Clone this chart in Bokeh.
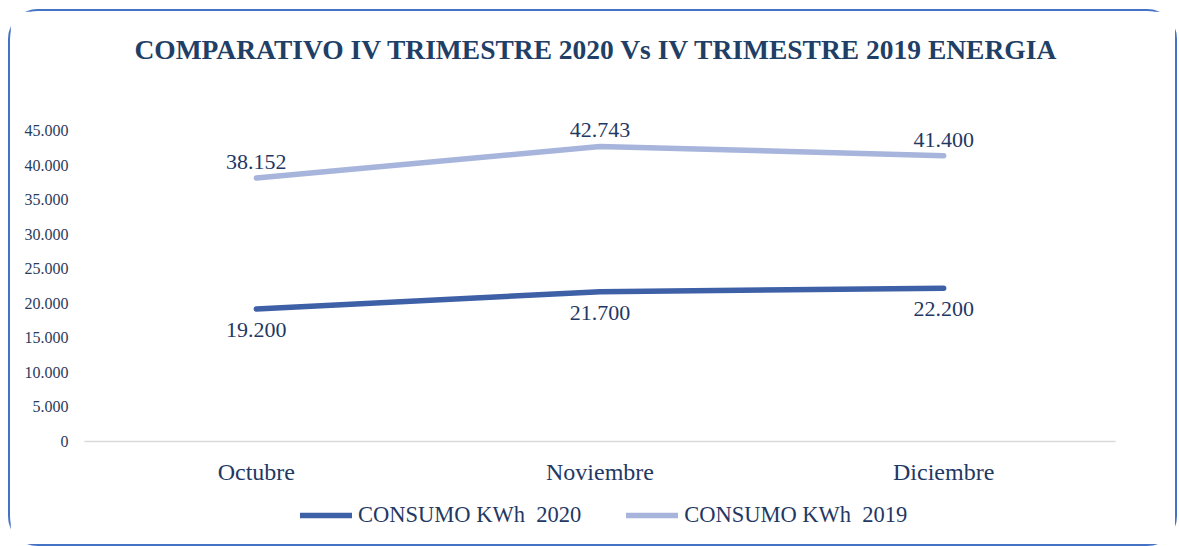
from bokeh.plotting import figure
from bokeh.layouts import column
from bokeh.models import (FactorRange, Range1d, FixedTicker, Legend, LegendItem,
                          ColumnDataSource)
from bokeh.core.properties import value
from bokeh.embed import file_html
from bokeh.resources import INLINE

# ---- data ----
months = ["Octubre", "Noviembre", "Diciembre"]
consumo_2020 = [19200, 21700, 22200]
consumo_2019 = [38152, 42743, 41400]
series_names = ["CONSUMO KWh  2020", "CONSUMO KWh  2019"]
y_ticks = [0, 5000, 10000, 15000, 20000, 25000, 30000, 35000, 40000, 45000]
y_tick_labels = ["0", "5.000", "10.000", "15.000", "20.000", "25.000",
                 "30.000", "35.000", "40.000", "45.000"]
title_text = "COMPARATIVO IV TRIMESTRE 2020 Vs IV TRIMESTRE 2019  ENERGIA"


def fmt(v):
    return f"{v:,}".replace(",", ".")


FONT = value("Liberation Serif")
TEXT = "#1F3864"
TITLE_C = "#1F3F66"
C2020 = "#3D60A6"
C2019 = "#A7B4DC"

p = figure(width=1165, height=480,
           x_range=FactorRange(*months, range_padding=0),
           y_range=Range1d(0, 52000),
           output_backend="svg", toolbar_location=None,
           min_border_left=74, min_border_right=60,
           min_border_top=71, min_border_bottom=50)

p.title.text = title_text
p.title.align = "center"
p.title.vertical_align = "bottom"
p.title.text_font = "Liberation Serif"
p.title.text_font_size = "27.5px"
p.title.text_font_style = "bold"
p.title.text_color = TITLE_C
p.title.standoff = 36

p.outline_line_color = None
p.xgrid.grid_line_color = None
p.ygrid.grid_line_color = None

# axes
p.yaxis.ticker = FixedTicker(ticks=y_ticks)
p.yaxis.major_label_overrides = dict(zip(y_ticks, y_tick_labels))
p.yaxis.axis_line_color = None
p.yaxis.major_tick_line_color = None
p.yaxis.major_tick_out = 0
p.yaxis.minor_tick_line_color = None
p.yaxis.major_label_standoff = 16
p.yaxis.major_label_text_font = "Liberation Serif"
p.yaxis.major_label_text_font_size = "16px"
p.yaxis.major_label_text_color = "#2B3B5A"

p.xaxis.axis_line_color = "#D9D9D9"
p.xaxis.axis_line_width = 1.5
p.xaxis.major_tick_line_color = None
p.xaxis.major_tick_out = 0
p.xaxis.minor_tick_line_color = None
p.xaxis.major_label_standoff = 17
p.xaxis.major_label_text_font = "Liberation Serif"
p.xaxis.major_label_text_font_size = "24px"
p.xaxis.major_label_text_color = TEXT

# lines
r20 = p.line(months, consumo_2020, line_width=5.5, line_color=C2020, line_cap="round")
r19 = p.line(months, consumo_2019, line_width=5.5, line_color=C2019, line_cap="round")

# data labels
src20 = ColumnDataSource(dict(x=months, y=consumo_2020, t=[fmt(v) for v in consumo_2020]))
src19 = ColumnDataSource(dict(x=months, y=consumo_2019, t=[fmt(v) for v in consumo_2019]))
p.text(x="x", y="y", text="t", source=src19, text_font=FONT, text_font_size="22px",
       text_color=TEXT, text_align="center", text_baseline="bottom", y_offset=-9)
p.text(x="x", y="y", text="t", source=src20, text_font=FONT, text_font_size="22px",
       text_color=TEXT, text_align="center", text_baseline="top", y_offset=14)

# legend strip below the chart (series drawn out of view, only the legend shows)
p2 = figure(width=1165, height=53, x_range=FactorRange(*months, range_padding=0),
            y_range=Range1d(-2, -1),
            x_axis_type=None, y_axis_type=None,
            output_backend="svg", toolbar_location=None, min_border=0)
p2.outline_line_color = None
p2.xgrid.grid_line_color = None
p2.ygrid.grid_line_color = None
k20 = p2.line(months, consumo_2020, line_width=5.5, line_color=C2020, line_cap="round")
k19 = p2.line(months, consumo_2019, line_width=5.5, line_color=C2019, line_cap="round")
legend = Legend(items=[LegendItem(label=series_names[0], renderers=[k20]),
                       LegendItem(label=series_names[1], renderers=[k19])],
                orientation="horizontal", location=(216, 16),
                glyph_width=52, glyph_height=20, label_standoff=6, spacing=45,
                label_text_font="Liberation Serif", label_text_font_size="22.5px",
                label_text_color=TEXT, border_line_color=None,
                background_fill_alpha=0, padding=0, margin=0)
p2.add_layout(legend)

layout = column(p, p2, spacing=0,
                styles={"border": "2px solid #4472C4", "border-radius": "30px",
                        "margin": "9px 0 0 8px"})

open("out.html", "w").write(file_html(layout, INLINE))
